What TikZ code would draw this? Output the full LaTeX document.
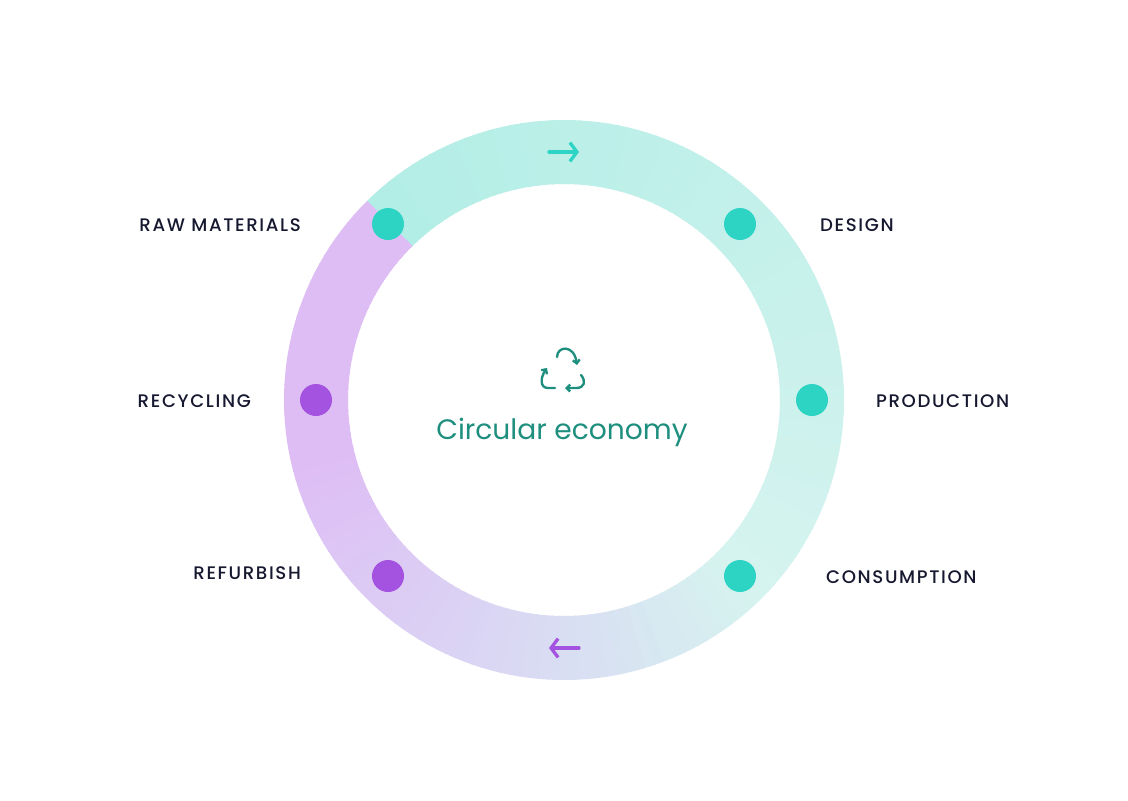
\documentclass[tikz,border=0pt]{standalone}
\usepackage{fontspec}
\setmainfont{Poppins}
\newfontfamily\labelfont[LetterSpace=9]{Poppins Medium}
\usetikzlibrary{arrows.meta}
\definecolor{tealring}{HTML}{B2EEE6}
\definecolor{paleteal}{HTML}{D6F3EF}
\definecolor{bluering}{HTML}{D9DDF3}
\definecolor{purplering}{HTML}{DEBDF5}
\definecolor{tealdot}{HTML}{2DD4C4}
\definecolor{purpledot}{HTML}{A452E0}
\definecolor{titlegreen}{HTML}{1E8F7F}
\definecolor{navy}{HTML}{161830}
\tikzset{
    stagedot/.style={circle,minimum size=0.96cm,inner sep=0pt},
    stagelabel/.style={text=navy,font=\labelfont\fontsize{15.5}{18}\selectfont},
    ringarrow/.style={line width=2.8pt,line cap=round,-{Straight Barb[length=6pt,width=16pt,line width=2.8pt]}},
    iconarrow/.style={titlegreen,line width=2pt,line cap=round,-{Straight Barb[length=3pt,width=6pt,line width=2pt]}}
}
\begin{document}
\begin{tikzpicture}[x=0.03cm,y=-0.03cm]
    \useasboundingbox[fill=white] (0,0) rectangle (1128,800);
    % ring: teal side runs clockwise from raw materials to the bottom, purple back up
    \foreach \a in {0,2,...,358} {
        \ifnum\a<180
            \pgfmathtruncatemacro\p{\a/1.8}
            \colorlet{segc}{paleteal!\p!tealring}
        \else\ifnum\a<225
            \pgfmathtruncatemacro\p{(\a-180)/0.45}
            \colorlet{segc}{bluering!\p!paleteal}
        \else
            \pgfmathtruncatemacro\p{min(100,(\a-225)/0.75)}
            \colorlet{segc}{purplering!\p!bluering}
        \fi\fi
        \draw[segc,line width=1.92cm] (564,400) ++(\a-135:248) arc[start angle=\a-135,delta angle=2.4,radius=248];
    }
    \node[stagedot,fill=tealdot]   (raw)   at (388,224) {};
    \node[stagedot,fill=tealdot]   (des)   at (740,224) {};
    \node[stagedot,fill=tealdot]   (prod)  at (812,400) {};
    \node[stagedot,fill=tealdot]   (cons)  at (740,576) {};
    \node[stagedot,fill=purpledot] (refb)  at (388,576) {};
    \node[stagedot,fill=purpledot] (recy)  at (316,400) {};
    \node[stagelabel,anchor=east] (rawl)  at (305,225) {RAW MATERIALS};
    \node[stagelabel,anchor=west] (desl)  at (816,225) {DESIGN};
    \node[stagelabel,anchor=west] (prodl) at (872,401) {PRODUCTION};
    \node[stagelabel,anchor=west] (consl) at (822,577) {CONSUMPTION};
    \node[stagelabel,anchor=east] (refbl) at (305,573) {REFURBISH};
    \node[stagelabel,anchor=east] (recyl) at (255,401) {RECYCLING};
    \draw[ringarrow,tealdot] (549,152) -- (579,152);
    \draw[ringarrow,purpledot] (579,648) -- (549,648);
    % recycle icon
    \draw[iconarrow] (557,357) .. controls (557,346) and (574,344) .. (577,365);
    \draw[iconarrow] (581,375) .. controls (586,381) and (585,388) .. (576,388) -- (565,388);
    \draw[iconarrow] (555,388) -- (548,388) .. controls (540,388) and (540,378) .. (547,368);
    \node[text=titlegreen,font=\fontsize{24}{28}\selectfont] (title) at (562,432) {Circular economy};
\end{tikzpicture}
\end{document}
